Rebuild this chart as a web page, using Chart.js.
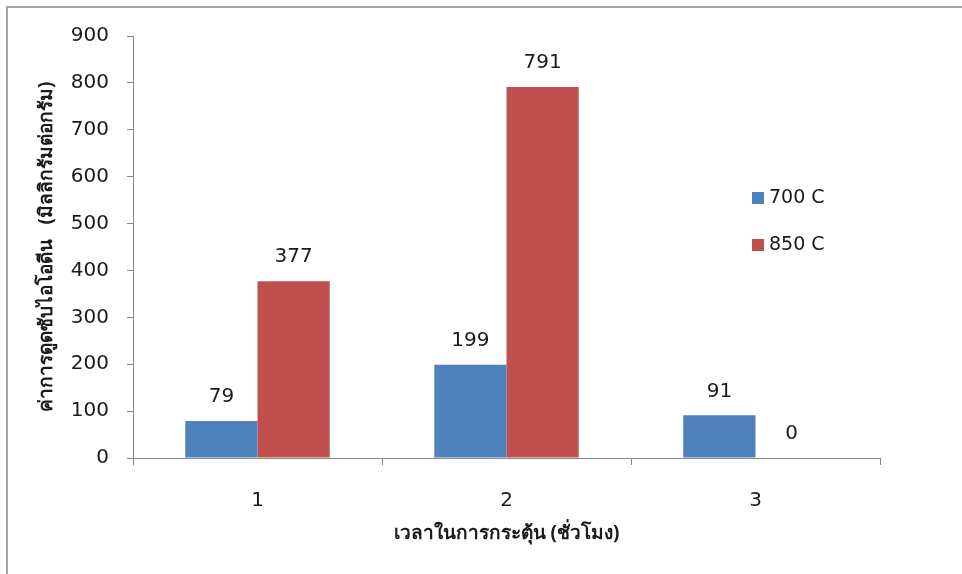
<!DOCTYPE html>
<html>
<head>
<meta charset="utf-8">
<script src="https://cdn.jsdelivr.net/npm/chart.js@4"></script>
<style>
  html, body { margin: 0; padding: 0; background: #fff; }
  #wrap { position: relative; width: 962px; height: 574px; }
  #frame { position: absolute; left: 6px; top: 6px; right: 0; bottom: 0; border-left: 2px solid #a6a6a6; border-top: 2px solid #a6a6a6; }
  canvas { position: absolute; left: 0; top: 0; }
</style>
</head>
<body>
<div id="wrap">
  <div id="frame"></div>
  <canvas id="barChart" width="962" height="574"></canvas>
</div>
<script>
// Chart data
const hours = ['1', '2', '3'];
const series700 = [79, 199, 91];
const series850 = [377, 791, 0];
const seriesNames = ['700 C', '850 C'];
const yTitle = 'ค่าการดูดซับไอโอดีน   (มิลลิกรัมต่อกรัม)';
const xTitle = 'เวลาในการกระตุ้น (ชั่วโมง)';

const numFont = '"DejaVu Sans", sans-serif';
const thaiFont = '"Open Sans", "DejaVu Sans", sans-serif';

// Value labels above each bar
const valueLabels = {
  id: 'valueLabels',
  afterDatasetsDraw(chart) {
    const ctx = chart.ctx;
    ctx.save();
    ctx.font = '20px ' + numFont;
    ctx.fillStyle = '#1a1a1a';
    ctx.textAlign = 'center';
    ctx.textBaseline = 'bottom';
    chart.data.datasets.forEach((ds, i) => {
      chart.getDatasetMeta(i).data.forEach((bar, j) => {
        ctx.fillText(String(ds.data[j]), bar.x, bar.y - 14);
      });
    });
    ctx.restore();
  }
};

// Legend sitting inside the plot on the right
const sideLegend = {
  id: 'sideLegend',
  afterDraw(chart) {
    const ctx = chart.ctx;
    ctx.save();
    ctx.font = '19px ' + numFont;
    ctx.textBaseline = 'middle';
    chart.data.datasets.forEach((ds, i) => {
      const y = 198 + i * 47;
      ctx.fillStyle = ds.backgroundColor;
      ctx.fillRect(752, y - 6, 12, 12);
      ctx.fillStyle = '#1a1a1a';
      ctx.fillText(ds.label, 769, y);
    });
    ctx.restore();
  }
};

const ctx = document.getElementById('barChart').getContext('2d');
const chart = new Chart(ctx, {
  type: 'bar',
  data: {
    labels: hours,
    datasets: [
      {
        label: seriesNames[0],
        data: series700,
        backgroundColor: '#4f81bd',
        categoryPercentage: 0.58,
        barPercentage: 1
      },
      {
        label: seriesNames[1],
        data: series850,
        backgroundColor: '#c0504d',
        categoryPercentage: 0.58,
        barPercentage: 1
      }
    ]
  },
  options: {
    responsive: false,
    animation: false,
    layout: {
      padding: { left: 8, top: 36, right: 82, bottom: 0 }
    },
    plugins: {
      legend: { display: false },
      tooltip: { enabled: false }
    },
    scales: {
      x: {
        grid: {
          display: true,
          drawOnChartArea: false,
          drawTicks: true,
          tickLength: 7,
          color: '#868686'
        },
        border: { color: '#868686' },
        ticks: {
          color: '#1a1a1a',
          font: { family: numFont, size: 20 },
          padding: 24
        },
        title: {
          display: true,
          text: xTitle,
          color: '#1a1a1a',
          font: { family: thaiFont, size: 19, weight: 'bold' },
          padding: { top: 0, bottom: 29 }
        },
        afterFit(scale) { scale.height = 116; }
      },
      y: {
        min: 0,
        max: 900,
        ticks: {
          stepSize: 100,
          color: '#1a1a1a',
          font: { family: numFont, size: 20 },
          padding: 18
        },
        grid: {
          display: true,
          drawOnChartArea: false,
          drawTicks: true,
          tickLength: 6,
          color: '#868686'
        },
        border: { color: '#868686' },
        title: {
          display: true,
          text: yTitle,
          color: '#1a1a1a',
          font: { family: thaiFont, size: 19, weight: 'bold' },
          padding: { top: 27, bottom: 0 }
        },
        afterFit(scale) { scale.width = 125; }
      }
    }
  },
  plugins: [valueLabels, sideLegend]
});
</script>
</body>
</html>
